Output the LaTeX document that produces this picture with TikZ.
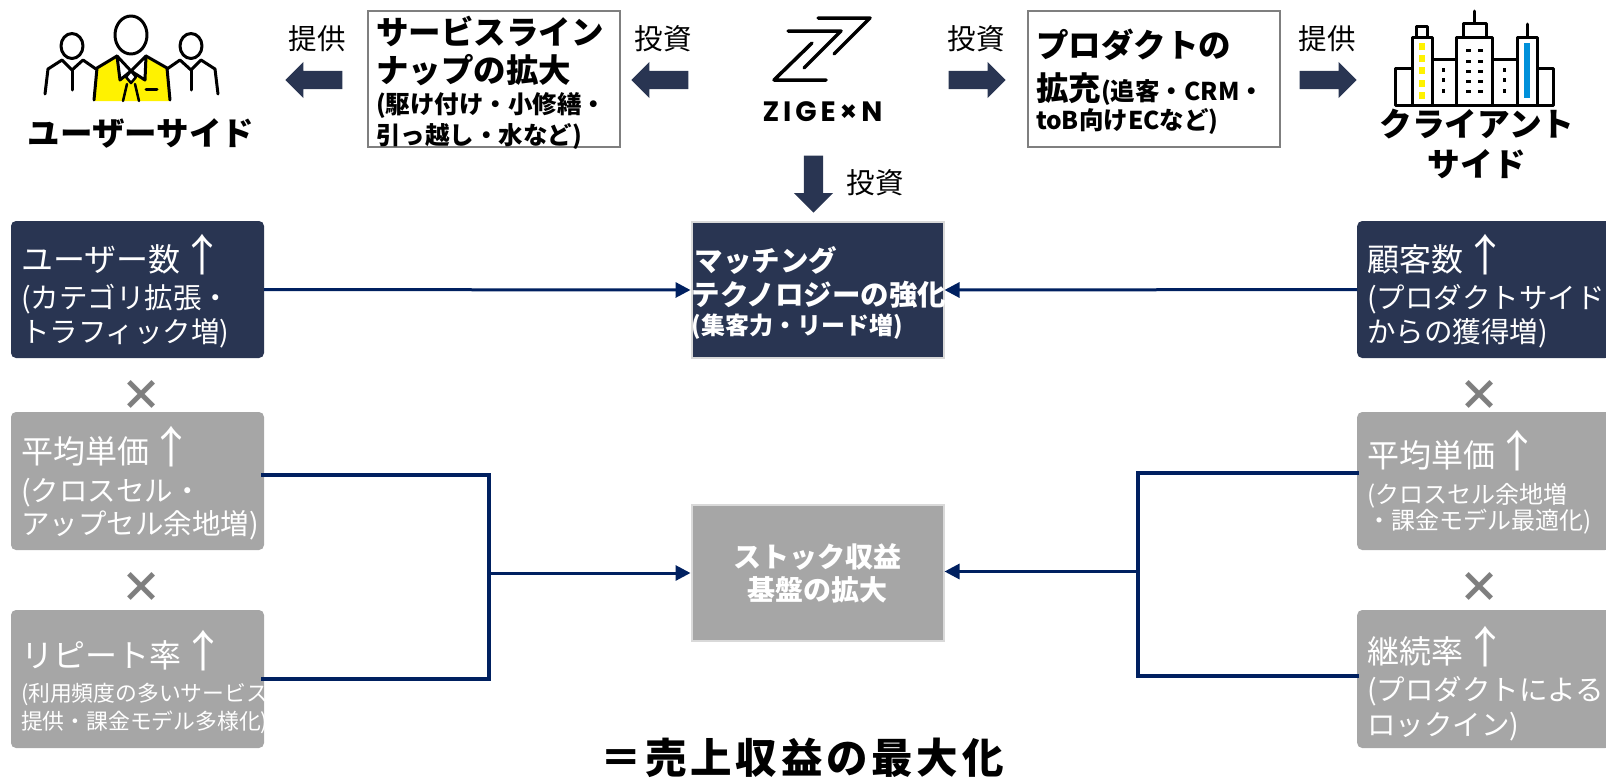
\documentclass[tikz,border=0pt]{standalone}
\usepackage{fontspec}
\setmainfont{Noto Sans CJK JP}
\newfontfamily\logofont[LetterSpace=14]{Poppins}
\usetikzlibrary{arrows.meta, shapes.arrows}

\definecolor{navyfill}{HTML}{293552}
\definecolor{grayfill}{HTML}{A6A6A6}
\definecolor{linknavy}{HTML}{002060}
\definecolor{crossgray}{HTML}{7F7F7F}
\definecolor{palegray}{HTML}{D9D9D9}
\definecolor{iconblue}{HTML}{0090DA}

\newcommand{\fs}[1]{\fontsize{#1}{#1}\selectfont}
\newcommand{\upmark}{\smash{\fontsize{44}{44}\selectfont ↑}}
\newcommand{\toppad}[1]{\rule{0pt}{#1pt}}

\tikzset{
    kpi/.style={rectangle, rounded corners=5pt, minimum width=253pt, minimum height=137pt,
        text width=233pt, inner xsep=10pt, inner ysep=0pt, align=left, text=white},
    navybox/.style={kpi, fill=navyfill},
    graybox/.style={kpi, fill=grayfill},
    centerbox/.style={rectangle, draw=palegray, line width=2pt, minimum width=252pt, minimum height=136pt,
        text=white, inner xsep=0pt, inner ysep=0pt},
    topbox/.style={rectangle, draw=crossgray, line width=2.5pt, minimum width=252pt, minimum height=136pt,
        text width=236pt, inner xsep=8pt, inner ysep=0pt, align=left, font=\bfseries},
    blockarrow/.style={single arrow, fill=navyfill, minimum width=36pt, minimum height=57pt,
        single arrow head extend=9pt, single arrow head indent=0pt, inner xsep=0pt, inner ysep=9pt, anchor=tip},
    crossmark/.style={text=crossgray, font=\bfseries\fs{42}, inner sep=0pt},
    caption/.style={font=\fs{28.5}, inner sep=0pt},
    sidelabel/.style={align=center, inner sep=0pt},
    conn/.style={draw=linknavy, line width=3pt},
    icon/.style={line width=3pt, line join=round, line cap=round},
}

\begin{document}
\begin{tikzpicture}[x=1pt, y=-1pt]
    \useasboundingbox (0,0) rectangle (1606,777);
    \clip (0,0) rectangle (1606,777);

    % user icon
    \fill[yellow] (95,101) -- (97,68) -- (117,56) -- (131,71) -- (146,56) -- (167,68) -- (169,101) -- cycle;
    \draw[icon, fill=white] (117,56) -- (120,80) -- (131,71) -- (145,80) -- (146,56) -- (131,71) -- cycle;
    \draw[icon] (131,35) ellipse [x radius=16, y radius=19];
    \draw[icon] (94,100) -- (97,68) -- (117,56);
    \draw[icon] (146,56) -- (167,68) -- (170,100);
    \draw[icon, line width=2.5pt] (127,84) -- (123,101) (135,84) -- (139,101);
    \draw[icon, fill=white, line width=2.5pt] (131,71) -- (136,77) -- (131,83) -- (126,77) -- cycle;
    \draw[icon] (146,89) -- (157,89);
    \foreach \cx/\sgn in {72/1, 191/-1} {
        \draw[icon] (\cx,46) ellipse [x radius=11, y radius=12.5];
        \draw[icon] (\cx-\sgn*27,94) -- (\cx-\sgn*24,69) -- (\cx-\sgn*10,60) -- (\cx,70) -- (\cx+\sgn*11,60) -- (\cx+\sgn*24,69);
        \draw[icon] (\cx,70) -- (\cx,90);
    }

    % client icon
    \draw[icon] (1395,105) rectangle (1553,68);
    \draw[icon, fill=white] (1412,105) rectangle (1432,37);
    \foreach \yy in {43,55,67,80,92}
        \fill[yellow] (1418.5,\yy) rectangle (1425,\yy+6.5);
    \draw[icon, fill=white] (1416,37) rectangle (1427,26);
    \draw[icon, fill=white] (1432,105) rectangle (1456,59);
    \draw[icon, fill=white] (1492,105) rectangle (1517,59);
    \draw[icon, fill=white] (1456,105) rectangle (1492,37);
    \draw[icon, fill=white] (1463,37) rectangle (1486,23);
    \draw[icon] (1474,23) -- (1474,11);
    \draw[icon, fill=white] (1517,105) rectangle (1537,37);
    \fill[iconblue] (1523.5,43) rectangle (1530,98);
    \draw[icon] (1527,37) -- (1527,24);
    \foreach \yy in {70,80,91} {
        \fill (1441.5,\yy-2) rectangle (1445,\yy+2);
        \fill (1502.5,\yy-2) rectangle (1506,\yy+2);
    }
    \foreach \yy in {50,61,71,81,91} {
        \fill (1465.5,\yy-1.5) rectangle (1471,\yy+1.5);
        \fill (1477.5,\yy-1.5) rectangle (1483,\yy+1.5);
    }

    % logo
    \draw[icon, line width=3.5pt] (788,31) -- (841,31) -- (804,68);
    \draw[icon, line width=3.5pt] (818,18) -- (870,18) -- (834,54);
    \draw[icon, line width=3.5pt] (812,43) -- (774,80) -- (826,80);
    \node[inner sep=0pt, font=\logofont\bfseries\fs{28}] (logo) at (822.5,112) {ZIGE×N};

    % top row
    \node[sidelabel, font=\bfseries\fs{32.5}] (userside) at (141,133) {ユーザーサイド};
    \node[sidelabel, font=\bfseries\fontsize{32.7}{38}\selectfont] (clientside) at (1477,144) {クライアント\\[2pt]サイド};
    \node[topbox, inner ysep=-6pt] (service) at (494,79) {\fontsize{32.5}{36}\selectfont\toppad{36}サービスライン\\[2pt]ナップの拡大\\[3.5pt]
        \fontsize{24.5}{28}\selectfont (駆け付け・小修繕・\\[3.5pt]引っ越し・水など)};
    \node[topbox] (product) at (1154,79) {\fontsize{32.5}{42}\selectfont\toppad{34}プロダクトの\\[1pt]拡充{\fontsize{24.5}{32}\selectfont (追客・CRM・}\\[2pt]
        \fontsize{24.5}{32}\selectfont toB向けECなど)};

    \node[blockarrow, shape border rotate=180] (arrowuser) at (285,80) {};
    \node[blockarrow, shape border rotate=180] (arrowservice) at (631,80) {};
    \node[blockarrow] (arrowproduct) at (1006,80) {};
    \node[blockarrow] (arrowclient) at (1357,80) {};
    \node[blockarrow, shape border rotate=270, minimum width=39pt, inner xsep=9.5pt, inner ysep=0pt, single arrow head extend=10pt] (arrowmatch) at (813.5,213) {};
    \node[caption] (capuser) at (317,39) {提供};
    \node[caption] (capservice) at (663,39) {投資};
    \node[caption] (capproduct) at (976,39) {投資};
    \node[caption] (capclient) at (1327,39) {提供};
    \node[caption] (capmatch) at (875,183) {投資};

    % left column
    \node[navybox] (usercount) at (137.5,289.5) {\fontsize{28.5}{34}\selectfont
        {\fs{32}\toppad{40}ユーザー数\upmark}\\[3pt](カテゴリ拡張・\\[3pt]トラフィック増)};
    \node[graybox, minimum height=138pt] (useravg) at (137.5,481) {\fontsize{28.5}{31}\selectfont
        {\fs{32}\toppad{41}平均単価\upmark}\\[7pt](クロスセル・\\[2pt]アップセル余地増)};
    \node[graybox, minimum height=138pt] (repeat) at (137.5,679) {\fontsize{21.8}{27}\selectfont
        {\fs{32}\toppad{44}リピート率\upmark}\\[7pt](利用頻度の多いサービス\\[4pt]提供・課金モデル多様化)};
    \node[crossmark] (crossa) at (141,395) {×};
    \node[crossmark] (crossb) at (141,587) {×};

    % right column
    \node[navybox, anchor=west] (clientcount) at (1357,289.5) {\fontsize{28.5}{34}\selectfont
        {\fs{32}\toppad{40}顧客数\upmark}\\[3pt](プロダクトサイド\\[3pt]からの獲得増)};
    \node[graybox, anchor=west, minimum height=138pt] (clientavg) at (1357,481) {\fontsize{24}{29}\selectfont
        {\fs{32}\toppad{40}平均単価\upmark}\\[7pt](クロスセル余地増\\[0.5pt]・課金モデル最適化)};
    \node[graybox, anchor=west, minimum height=138pt] (retention) at (1357,679) {\fontsize{28.5}{35}\selectfont
        {\fs{32}\toppad{46}継続率\upmark}\\[2pt](プロダクトによる\\[5.5pt]ロックイン)};
    \node[crossmark] (crossc) at (1479,395) {×};
    \node[crossmark] (crossd) at (1479,587) {×};

    % center
    \node[centerbox, fill=navyfill, font=\bfseries, text width=252pt, align=left] (match) at (817.5,290) {\fontsize{28.5}{35}\selectfont\toppad{31}
        マッチング\\[-0.5pt]テクノロジーの強化\\[4.5pt]{\fontsize{24}{30}\selectfont (集客力・リード増)}};
    \node[centerbox, fill=grayfill, align=center, font=\bfseries\fontsize{28}{37}\selectfont] (stock) at (817.5,573) {ストック収益\\[-4pt]基盤の拡大};
    \node[inner sep=0pt, font=\bfseries\fs{41.5}\addfontfeature{LetterSpace=9}] (result) at (802,758) {＝売上収益の最大化};

    % connectors
    \draw[conn, -{Triangle[length=15pt, width=15pt]}] (usercount.east) -- (match.west);
    \draw[conn, -{Triangle[length=15pt, width=15pt]}] (clientcount.west) -- (match.east);

    \coordinate (useravgend) at (263,475);
    \coordinate (repeatend) at (263,679);
    \coordinate (leftjoin) at (489,573);
    \draw[conn, line width=3.5pt, line cap=rect] (useravgend) -| (leftjoin) |- (repeatend);
    \draw[conn, -{Triangle[length=15pt, width=15pt]}] (leftjoin) -- (stock.west);

    \coordinate (clientavgend) at (1357,473);
    \coordinate (retentionend) at (1357,676);
    \coordinate (rightjoin) at (1138,571.5);
    \draw[conn, line width=3.5pt, line cap=rect] (clientavgend) -| (rightjoin) |- (retentionend);
    \draw[conn, -{Triangle[length=15pt, width=15pt]}] (rightjoin) -- (rightjoin -| stock.east);
\end{tikzpicture}
\end{document}
